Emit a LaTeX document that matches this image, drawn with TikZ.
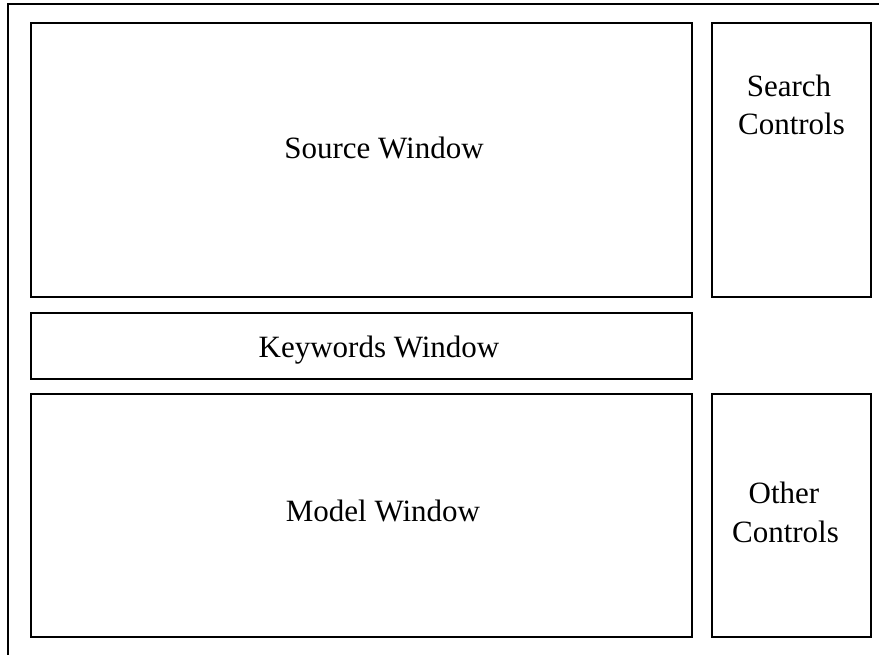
\documentclass[tikz,border=0pt]{standalone}
\usepackage{fontspec}
\setmainfont{Liberation Serif}
\begin{document}
\begin{tikzpicture}[x=1pt,y=-1pt,
  panel/.style={draw,line width=1.7pt,inner sep=0pt},
  lbl/.style={font=\fontsize{31}{38}\selectfont,inner sep=0pt,anchor=base}]
\useasboundingbox (0,0) rectangle (879,655);
\draw[line width=1.7pt] (8,655) -- (8,4) -- (879,4);
\node[panel,minimum width=661pt,minimum height=274pt] (src) at (361.5,160) {};
\node[panel,minimum width=159pt,minimum height=274pt] (search) at (791.5,160) {};
\node[panel,minimum width=661pt,minimum height=66pt] (kw) at (361.5,346) {};
\node[panel,minimum width=661pt,minimum height=243pt] (model) at (361.5,515.5) {};
\node[panel,minimum width=159pt,minimum height=243pt] (other) at (791.5,515.5) {};
\node[lbl] (srct) at (384,159) {Source Window};
\node[lbl] (searcht) at (789,97) {Search};
\node[lbl] (searcht2) at (791.5,135) {Controls};
\node[lbl] (kwt) at (379,358) {Keywords Window};
\node[lbl] (modelt) at (383,521) {Model Window};
\node[lbl] (othert) at (784,503) {Other};
\node[lbl] (othert2) at (785.5,542) {Controls};
\end{tikzpicture}
\end{document}
